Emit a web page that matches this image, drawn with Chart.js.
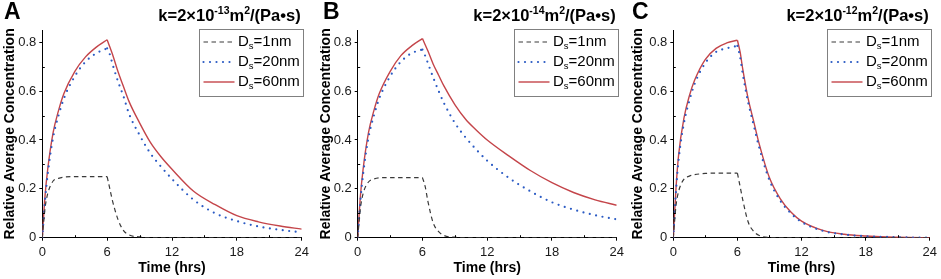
<!DOCTYPE html>
<html>
<head>
<meta charset="utf-8">
<script src="https://cdn.jsdelivr.net/npm/chart.js@4.4.1/dist/chart.umd.min.js"></script>
<style>
  body { margin: 0; background: #fff; }
  #wrap { position: relative; width: 941px; height: 279px; overflow: hidden; }
  canvas { position: absolute; top: 0; }
</style>
</head>
<body>
<div id="wrap">
  <canvas id="panelA" width="320" height="279" style="left:0px"></canvas>
  <canvas id="panelB" width="310" height="279" style="left:320px"></canvas>
  <canvas id="panelC" width="311" height="279" style="left:630px"></canvas>
</div>
<script>
'use strict';

// time grid (hrs), shared by every curve
var timeHrs = [0, 0.25, 0.5, 1, 1.5, 2, 3, 4, 5, 6, 6.25, 6.5, 7, 7.5, 8, 9, 10, 11, 12, 14, 16, 18, 20, 22, 24];
var peakIndex = 9; // t = 6 hrs, injection stops

var panelLetters = ['A', 'B', 'C'];
var kExponents = ['-13', '-14', '-12'];
var seriesNames = ['1nm', '20nm', '60nm'];
var xTicks = [0, 6, 12, 18, 24];
var yTicks = [0, 0.2, 0.4, 0.6, 0.8];

// panel A  k=2x10^-13
var a1nm = [0, 0.12, 0.18, 0.232, 0.243, 0.248, 0.25, 0.25, 0.25, 0.25, 0.2, 0.15, 0.075, 0.03, 0.012, 0.003, 0, 0, 0, 0, 0, 0, 0, 0, 0];
var a20nm = [0, 0.15, 0.26, 0.41, 0.5, 0.57, 0.66, 0.72, 0.755, 0.775, 0.75, 0.71, 0.64, 0.58, 0.51, 0.42, 0.345, 0.29, 0.24, 0.155, 0.1, 0.068, 0.046, 0.032, 0.022];
var a60nm = [0, 0.17, 0.28, 0.43, 0.52, 0.59, 0.68, 0.74, 0.78, 0.81, 0.78, 0.75, 0.68, 0.62, 0.56, 0.47, 0.39, 0.33, 0.28, 0.19, 0.135, 0.09, 0.065, 0.048, 0.035];

// panel B  k=2x10^-14
var b1nm = [0, 0.12, 0.18, 0.228, 0.24, 0.245, 0.246, 0.246, 0.246, 0.246, 0.21, 0.15, 0.06, 0.025, 0.009, 0.002, 0, 0, 0, 0, 0, 0, 0, 0, 0];
var b20nm = [0, 0.15, 0.26, 0.41, 0.5, 0.57, 0.66, 0.72, 0.755, 0.77, 0.745, 0.715, 0.655, 0.6, 0.55, 0.47, 0.41, 0.36, 0.315, 0.245, 0.19, 0.145, 0.115, 0.092, 0.075];
var b60nm = [0, 0.17, 0.28, 0.43, 0.52, 0.59, 0.68, 0.745, 0.785, 0.815, 0.79, 0.765, 0.71, 0.665, 0.62, 0.545, 0.485, 0.44, 0.4, 0.335, 0.275, 0.225, 0.185, 0.155, 0.133];

// panel C  k=2x10^-12
var c1nm = [0, 0.13, 0.19, 0.24, 0.252, 0.258, 0.263, 0.264, 0.264, 0.264, 0.21, 0.155, 0.065, 0.027, 0.01, 0.001, 0, 0, 0, 0, 0, 0, 0, 0, 0];
var c20nm = [0, 0.19, 0.32, 0.47, 0.56, 0.63, 0.715, 0.76, 0.775, 0.785, 0.74, 0.67, 0.555, 0.465, 0.375, 0.235, 0.152, 0.1, 0.064, 0.028, 0.013, 0.006, 0.003, 0.001, 0];
var c60nm = [0, 0.2, 0.34, 0.49, 0.58, 0.645, 0.73, 0.775, 0.797, 0.808, 0.76, 0.69, 0.57, 0.48, 0.39, 0.245, 0.16, 0.105, 0.068, 0.03, 0.014, 0.007, 0.003, 0.001, 0];

var lineStyles = [
    { color: '#3a3a3a', width: 1.2, dash: [4.5, 3.5], cap: 'butt' },
    { color: '#2b5bc4', width: 2.2, dash: [0, 6.5], cap: 'round' },
    { color: '#c4454a', width: 1.4, dash: [], cap: 'butt' }
];

var FONT = '"Liberation Sans", Arial, sans-serif';

function toPoints(values, from, to) {
    var pts = [];
    for (var i = from; i <= to; i++) {
        pts.push({ x: timeHrs[i], y: values[i] });
    }
    return pts;
}

// each curve is split at t=6 so the cusp stays sharp
function buildDatasets(allSeries) {
    var sets = [];
    for (var s = 0; s < allSeries.length; s++) {
        var st = lineStyles[s];
        var parts = [toPoints(allSeries[s], 0, peakIndex), toPoints(allSeries[s], peakIndex, timeHrs.length - 1)];
        for (var p = 0; p < 2; p++) {
            sets.push({
                data: parts[p],
                borderColor: st.color,
                borderWidth: st.width,
                borderDash: st.dash,
                borderCapStyle: st.cap,
                pointRadius: 0,
                fill: false,
                cubicInterpolationMode: 'monotone'
            });
        }
    }
    return sets;
}

function drawRich(ctx, parts, right, baseY) {
    var total = 0;
    for (var i = 0; i < parts.length; i++) {
        ctx.font = parts[i].f;
        total += ctx.measureText(parts[i].t).width;
    }
    var x = right - total;
    ctx.textAlign = 'left';
    ctx.textBaseline = 'alphabetic';
    for (var j = 0; j < parts.length; j++) {
        ctx.font = parts[j].f;
        ctx.fillText(parts[j].t, x, baseY + (parts[j].dy || 0));
        x += ctx.measureText(parts[j].t).width;
    }
}

var decorPlugin = {
    id: 'decor',
    afterDraw: function (chart) {
        var o = chart.options.plugins.decor;
        var ctx = chart.ctx;
        var area = chart.chartArea;
        var xs = chart.scales.x, ys = chart.scales.y;
        ctx.save();
        ctx.fillStyle = '#000';

        // panel letter
        ctx.font = 'bold 23px ' + FONT;
        ctx.textAlign = 'left';
        ctx.textBaseline = 'alphabetic';
        ctx.fillText(o.letter, o.letterX, 19);

        // k title with superscripts
        drawRich(ctx, [
            { t: 'k=2×10', f: 'bold 16.5px ' + FONT },
            { t: o.exp, f: 'bold 10.5px ' + FONT, dy: -7 },
            { t: 'm', f: 'bold 16.5px ' + FONT },
            { t: '2', f: 'bold 10.5px ' + FONT, dy: -7 },
            { t: '/(Pa•s)', f: 'bold 16.5px ' + FONT }
        ], area.right - 1, 21);

        // y axis title
        ctx.save();
        ctx.translate(o.yTitleX, (area.top + area.bottom) / 2);
        ctx.rotate(-Math.PI / 2);
        ctx.font = 'bold 14px ' + FONT;
        ctx.textAlign = 'center';
        ctx.textBaseline = 'middle';
        ctx.fillText('Relative Average Concentration', 0, 0);
        ctx.restore();

        // minor ticks
        ctx.strokeStyle = '#000';
        ctx.lineWidth = 1;
        ctx.beginPath();
        for (var t = 3; t < 24; t += 6) {
            var px = Math.round(xs.getPixelForValue(t)) + 0.5;
            ctx.moveTo(px, area.bottom);
            ctx.lineTo(px, area.bottom - 2.5);
        }
        for (var v = 0.1; v < 0.85; v += 0.2) {
            var py = Math.round(ys.getPixelForValue(v)) + 0.5;
            ctx.moveTo(area.left, py);
            ctx.lineTo(area.left + 2.5, py);
        }
        ctx.stroke();

        // legend
        var bw = 104, bh = 67;
        var bx = Math.round(area.right + 1 - bw) + 0.5;
        var by = 29.5;
        ctx.fillStyle = '#fff';
        ctx.fillRect(bx, by, bw, bh);
        ctx.strokeStyle = '#808080';
        ctx.lineWidth = 1;
        ctx.strokeRect(bx, by, bw, bh);
        for (var s = 0; s < seriesNames.length; s++) {
            var st = lineStyles[s];
            var ry = by + 12.5 + s * 20;
            ctx.beginPath();
            ctx.strokeStyle = st.color;
            ctx.lineWidth = st.width;
            ctx.setLineDash(st.dash);
            ctx.lineCap = st.cap;
            ctx.moveTo(bx + 4, ry);
            ctx.lineTo(bx + 35, ry);
            ctx.stroke();
            ctx.setLineDash([]);
            ctx.lineCap = 'butt';
            ctx.fillStyle = '#000';
            ctx.textBaseline = 'middle';
            ctx.textAlign = 'left';
            var tx = bx + 38.5;
            ctx.font = '15px ' + FONT;
            ctx.fillText('D', tx, ry);
            tx += ctx.measureText('D').width;
            ctx.font = '9.5px ' + FONT;
            ctx.fillText('s', tx, ry + 4);
            tx += ctx.measureText('s').width;
            ctx.font = '15px ' + FONT;
            ctx.fillText('=' + seriesNames[s], tx, ry);
        }
        ctx.restore();
    }
};

function makePanel(id, idx, allSeries, yWidth, padRight, yTitleX, letterX) {
    var ctx = document.getElementById(id).getContext('2d');
    return new Chart(ctx, {
        type: 'line',
        data: { datasets: buildDatasets(allSeries) },
        options: {
            responsive: false,
            animation: false,
            devicePixelRatio: 1,
            layout: { padding: { top: 30, right: padRight, left: 0, bottom: 0 } },
            plugins: {
                legend: { display: false },
                tooltip: { enabled: false },
                decor: { letter: panelLetters[idx], exp: kExponents[idx], yTitleX: yTitleX, letterX: letterX }
            },
            scales: {
                x: {
                    type: 'linear',
                    min: 0,
                    max: 24,
                    afterFit: function (s) { s.height = 41.3; },
                    afterBuildTicks: function (s) { s.ticks = xTicks.map(function (v) { return { value: v }; }); },
                    ticks: { color: '#1a1a1a', font: { family: FONT, size: 13 }, padding: 4, maxRotation: 0 },
                    grid: { drawOnChartArea: false, drawTicks: true, tickLength: 3, color: '#000' },
                    border: { display: true, color: '#000', width: 1 },
                    title: { display: true, text: 'Time (hrs)', color: '#000', font: { family: FONT, size: 14, weight: 'bold' }, padding: { top: 0, bottom: 2 } }
                },
                y: {
                    min: 0,
                    max: 0.85,
                    afterFit: function (s) { s.width = yWidth; },
                    afterBuildTicks: function (s) { s.ticks = yTicks.map(function (v) { return { value: v }; }); },
                    ticks: {
                        color: '#1a1a1a',
                        font: { family: FONT, size: 13 },
                        padding: 3,
                        callback: function (v) { return v === 0 ? '0' : v.toFixed(1); }
                    },
                    grid: { drawOnChartArea: false, drawTicks: true, tickLength: 3, color: '#000' },
                    border: { display: true, color: '#000', width: 1 }
                }
            }
        },
        plugins: [decorPlugin]
    });
}

makePanel('panelA', 0, [a1nm, a20nm, a60nm], 42.3, 18.3, 10, 4);
makePanel('panelB', 1, [b1nm, b20nm, b60nm], 37.7, 13.3, 6, 3);
makePanel('panelC', 2, [c1nm, c20nm, c60nm], 43.3, 9.3, 8.5, 2);
</script>
</body>
</html>
